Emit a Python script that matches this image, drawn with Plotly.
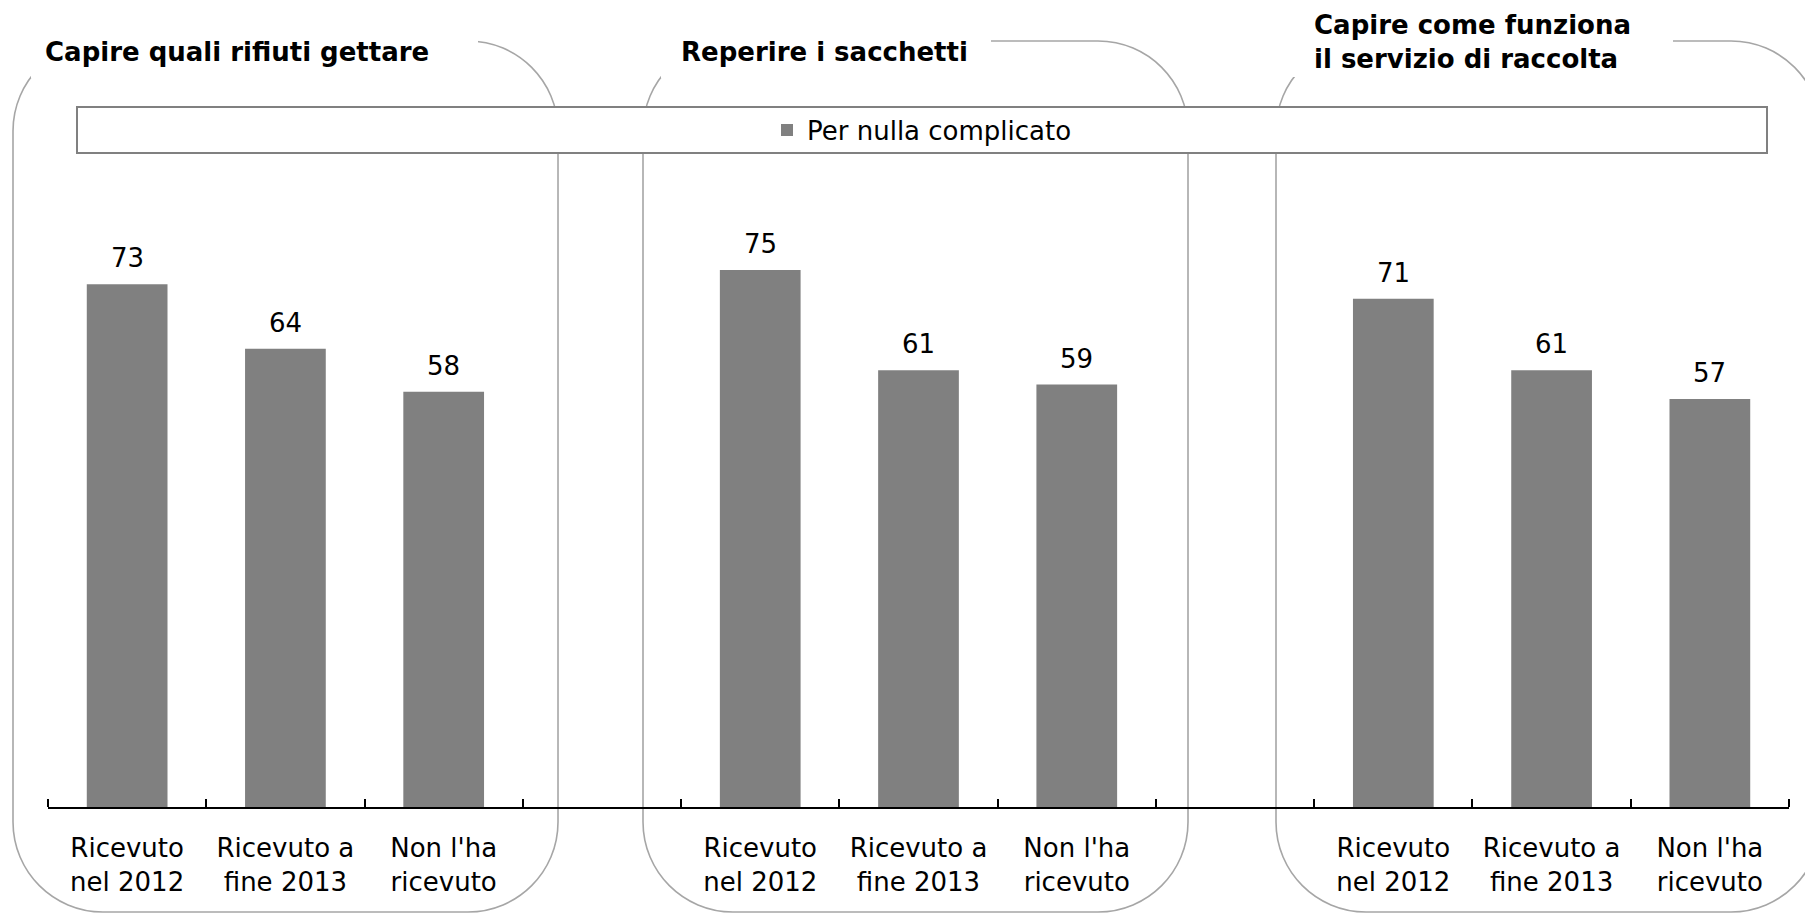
import plotly.graph_objects as go

# ---- data ----
group_titles = ["Capire quali rifiuti gettare", "Reperire i sacchetti",
                "Capire come funziona<br>il servizio di raccolta"]
categories = ["Ricevuto<br>nel 2012", "Ricevuto a<br>fine 2013", "Non l'ha<br>ricevuto"]
values_rifiuti = [73, 64, 58]
values_sacchetti = [75, 61, 59]
values_servizio = [71, 61, 57]
series_name = "Per nulla complicato"

W, H = 1805, 914
ML, MR, MT, MB = 48, 16, 91, 107
PW, PH = W - ML - MR, H - MT - MB
FONT = "DejaVu Sans"
FS = 26
BAR = "#808080"


def px(xp):
    return (xp - ML) / PW


def py(yp):
    return (H - MB - yp) / PH


groups = [values_rifiuti, values_sacchetti, values_servizio]
xs, ys = [], []
for g, vals in enumerate(groups):
    for i, v in enumerate(vals):
        xs.append(g * 4 + i)
        ys.append(v)
ticktext = categories * len(groups)

fig = go.Figure()
fig.add_trace(go.Bar(x=xs, y=ys, width=0.51, marker=dict(color=BAR, line=dict(width=0)),
                     name=series_name, showlegend=True))

# value labels
for x, y in zip(xs, ys):
    fig.add_annotation(x=x, y=y, xref="x", yref="y", text=str(y), showarrow=False,
                       yanchor="middle", yshift=26, font=dict(family=FONT, size=FS, color="black"))


def rounded_path(x0, y0, x1, y1, r):
    k = 0.5523 * r
    P = lambda a, b: f"{px(a):.5f},{py(b):.5f}"
    d = (f"M{P(x0 + r, y0)} L{P(x1 - r, y0)} "
         f"C{P(x1 - r + k, y0)} {P(x1, y0 + r - k)} {P(x1, y0 + r)} "
         f"L{P(x1, y1 - r)} "
         f"C{P(x1, y1 - r + k)} {P(x1 - r + k, y1)} {P(x1 - r, y1)} "
         f"L{P(x0 + r, y1)} "
         f"C{P(x0 + r - k, y1)} {P(x0, y1 - r + k)} {P(x0, y1 - r)} "
         f"L{P(x0, y0 + r)} "
         f"C{P(x0, y0 + r - k)} {P(x0 + r - k, y0)} {P(x0 + r, y0)} Z")
    return d


panels = [(13, 41, 558, 912), (643, 41, 1188, 912), (1276, 41, 1821, 912)]
masks = [(31, 0, 478, 78), (661, 0, 991, 78), (1293, 0, 1673, 77)]
for (x0, y0, x1, y1) in panels:
    fig.add_shape(type="path", path=rounded_path(x0, y0, x1, y1, 90), xref="paper", yref="paper",
                  line=dict(color="#A6A6A6", width=1.6), fillcolor="rgba(0,0,0,0)", layer="below")
for (x0, y0, x1, y1) in masks:
    fig.add_shape(type="rect", xref="paper", yref="paper", x0=px(x0), x1=px(x1), y0=py(y0), y1=py(y1),
                  line=dict(width=0), fillcolor="white", layer="below")
# legend frame
fig.add_shape(type="rect", xref="paper", yref="paper", x0=px(77), x1=px(1767), y0=py(107), y1=py(153),
              line=dict(color="#808080", width=2), fillcolor="white", layer="below")

# titles
title_pos = [(43, 52), (679, 52), (1312, 42)]
for t, (tx, ty) in zip(group_titles, title_pos):
    fig.add_annotation(x=px(tx), y=py(ty), xref="paper", yref="paper", text=f"<b>{t}</b>",
                       showarrow=False, xanchor="left", yanchor="middle", align="left",
                       font=dict(family=FONT, size=FS, color="black"))

fig.update_layout(
    width=W, height=H,
    margin=dict(l=ML, r=MR, t=MT, b=MB, autoexpand=False),
    paper_bgcolor="white", plot_bgcolor="rgba(0,0,0,0)",
    font=dict(family=FONT, size=FS, color="black"),
    showlegend=True,
    legend=dict(x=px(922), y=py(130), xanchor="center", yanchor="middle", orientation="h",
                bgcolor="rgba(0,0,0,0)", borderwidth=0, font=dict(family=FONT, size=FS, color="black"),
                itemwidth=30),
    bargap=0.49,
)
fig.update_xaxes(range=[-0.5, 10.5], tickmode="array", tickvals=xs, ticktext=ticktext,
                 ticks="", showgrid=False, zeroline=False, showline=True, linecolor="black",
                 linewidth=2, automargin=False, ticklabelstandoff=17,
                 tickfont=dict(family=FONT, size=FS, color="black"),
                 minor=dict(tickmode="array", tickvals=[k - 0.5 for k in range(12)], ticks="inside",
                            ticklen=8, tickwidth=2, tickcolor="black", showgrid=False))
fig.update_yaxes(range=[0, 100], visible=False, showgrid=False, zeroline=False)

fig.write_html("out.html", config={"displayModeBar": False},
               post_script="document.body.style.margin='0';document.body.style.overflow='hidden';")
